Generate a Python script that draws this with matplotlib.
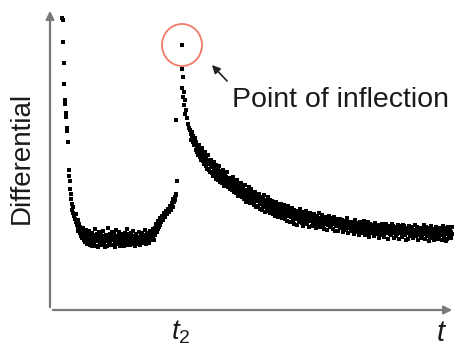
import numpy as np
import matplotlib.pyplot as plt
from matplotlib.patches import Ellipse

plt.rcParams['font.family'] = ['Liberation Sans', 'DejaVu Sans']
plt.rcParams['mathtext.fontset'] = 'custom'
plt.rcParams['mathtext.it'] = 'Liberation Sans:italic'
plt.rcParams['mathtext.rm'] = 'Liberation Sans'

# Datos (t y diferencial en unidades arbitrarias)
# caida inicial
t_inicio = [12, 13, 13, 14, 14, 15, 15, 16, 16, 17, 17, 18, 19, 19, 20, 20, 21, 21,
            22, 22, 23, 23, 24, 25, 26, 26, 27, 28, 28]
d_inicio = [292, 290, 268, 247, 226, 210, 206, 197, 193, 182, 179, 168, 140, 134, 129,
            121, 116, 111, 106, 100, 103, 97, 94, 91, 96, 88, 85, 90, 82]

# fondo plano (dos puntos por instante, t = 28..110)
t_plano = np.arange(28, 111)
d_plano_a = [84, 80, 77, 81, 78, 75, 70, 76, 73, 66, 71, 79, 65, 72, 77, 70, 67, 74,
             69, 76, 63, 70, 74, 68, 72, 79, 66, 71, 75, 64, 70, 73, 68, 74, 71, 65,
             76, 69, 73, 67, 72, 78, 64, 70, 75, 68, 73, 66, 71, 74, 69, 72, 65, 77,
             70, 74, 67, 71, 76, 68, 73, 70, 65, 74, 71, 67, 75, 70, 73, 69, 77, 72,
             75, 70, 78, 74, 76, 82, 79, 84, 81, 87, 85]
d_plano_b = [79, 86, 83, 74, 72, 82, 79, 68, 80, 77, 75, 68, 74, 69, 64, 75, 73, 81,
             64, 71, 72, 78, 66, 75, 65, 70, 74, 63, 69, 72, 82, 67, 76, 65, 78, 70,
             72, 63, 80, 74, 66, 70, 73, 76, 67, 72, 64, 77, 69, 81, 65, 76, 70, 73,
             66, 79, 72, 64, 70, 73, 66, 78, 72, 69, 77, 73, 68, 80, 66, 76, 71, 67,
             79, 74, 72, 81, 70, 75, 86, 78, 89, 83, 92]

# subida antes del pico
t_subida = [111, 112, 113, 114, 115, 116, 117, 118, 119, 120, 121, 122, 123, 123,
            124, 125, 126, 125, 126, 127]
d_subida = [88, 94, 90, 97, 93, 99, 96, 101, 98, 104, 100, 107, 103, 111, 108, 113,
            116, 110, 115, 129]

# pico (punto de inflexion) y primera caida
t_pico = [132, 132, 133, 132, 134, 133, 135, 134, 136, 135, 126, 137, 138, 139, 140]
d_pico = [265, 241, 233, 222, 218, 213, 210, 205, 200, 196, 190, 192, 186, 182, 180]

# decaimiento (dos puntos por instante, t = 141..402)
t_caida = np.arange(141, 403)
d_caida_a = [176, 173, 168, 171, 166, 160, 164, 161, 157, 153,
             158, 154, 149, 155, 151, 144, 150, 147, 140, 146,
             143, 137, 144, 139, 135, 145, 138, 130, 136, 132,
             139, 127, 133, 129, 136, 126, 130, 123, 132, 128,
             131, 120, 126, 122, 129, 117, 123, 120, 126, 116,
             121, 113, 124, 111, 118, 114, 120, 110, 117, 112,
             115, 108, 118, 105, 112, 109, 115, 104, 110, 107,
             113, 100, 111, 106, 98, 110, 104, 108, 101, 97,
             105, 109, 96, 107, 103, 99, 105, 93, 100, 104,
             98, 101, 96, 105, 91, 102, 97, 100, 94, 88,
             99, 95, 90, 100, 94, 97, 85, 99, 92, 96,
             90, 98, 93, 96, 88, 92, 86, 95, 91, 97,
             89, 84, 93, 96, 86, 90, 94, 85, 92, 88,
             91, 95, 84, 88, 93, 86, 80, 91, 87, 83,
             89, 92, 81, 86, 90, 84, 88, 79, 85, 91,
             87, 84, 78, 89, 85, 81, 86, 77, 88, 83,
             85, 80, 87, 76, 84, 81, 86, 79, 83, 88,
             80, 84, 78, 89, 81, 85, 77, 83, 79, 86,
             82, 78, 84, 74, 80, 83, 77, 85, 81, 76,
             82, 79, 84, 73, 80, 86, 77, 81, 78, 83,
             75, 80, 84, 72, 78, 82, 76, 85, 79, 81,
             77, 73, 80, 84, 75, 79, 82, 71, 78, 80,
             76, 83, 72, 79, 85, 74, 78, 81, 76, 82,
             78, 74, 80, 85, 71, 77, 79, 75, 82, 73,
             79, 76, 81, 70, 77, 83, 74, 78, 72, 80,
             75, 79, 84, 73, 77, 80, 71, 76, 81, 74,
             78, 83]
d_caida_b = [170, 178, 174, 165, 172, 168, 158, 155, 165, 160,
             150, 162, 156, 146, 158, 153, 141, 155, 149, 138,
             150, 146, 134, 148, 142, 131, 134, 141, 144, 128,
             130, 135, 140, 124, 131, 133, 138, 129, 126, 121,
             124, 127, 133, 118, 124, 125, 130, 114, 119, 123,
             127, 119, 117, 120, 125, 108, 116, 118, 123, 107,
             121, 113, 111, 114, 118, 103, 110, 112, 116, 101,
             106, 109, 104, 115, 108, 103, 99, 113, 106, 110,
             99, 102, 104, 100, 94, 108, 97, 102, 106, 95,
             106, 92, 103, 99, 100, 95, 89, 104, 98, 101,
             93, 102, 97, 86, 98, 91, 95, 93, 88, 101,
             95, 87, 84, 91, 94, 99, 93, 89, 83, 92,
             94, 91, 87, 90, 92, 82, 88, 91, 97, 83,
             86, 89, 92, 81, 87, 90, 89, 85, 94, 90,
             84, 87, 88, 93, 79, 88, 91, 86, 90, 83,
             82, 90, 86, 83, 80, 88, 92, 84, 82, 87,
             79, 88, 83, 85, 90, 78, 82, 87, 75, 81,
             85, 77, 86, 82, 75, 79, 83, 88, 73, 81,
             77, 85, 80, 82, 87, 76, 81, 79, 72, 84,
             78, 86, 75, 81, 77, 82, 79, 71, 84, 76,
             81, 86, 77, 79, 83, 74, 80, 78, 71, 84,
             82, 79, 85, 76, 80, 70, 77, 81, 84, 74,
             82, 78, 79, 75, 80, 77, 83, 70, 79, 75,
             72, 81, 77, 76, 79, 83, 74, 80, 69, 78,
             84, 72, 77, 79, 74, 78, 80, 71, 82, 76,
             81, 70, 76, 78, 82, 69, 77, 83, 74, 79,
             72, 76]

t_todo = np.concatenate([t_inicio, t_plano, t_plano, t_subida, t_pico, t_caida, t_caida])
d_todo = np.concatenate([d_inicio, d_plano_a, d_plano_b, d_subida, d_pico, d_caida_a, d_caida_b])

fig = plt.figure(figsize=(4.57, 3.53), dpi=100)
ax = fig.add_axes([50 / 457, 43 / 353, 405 / 457, 302 / 353])
ax.set_xlim(0, 405)
ax.set_ylim(0, 302)
for s in ax.spines.values():
    s.set_visible(False)
ax.set_xticks([])
ax.set_yticks([])
ax.patch.set_alpha(0)

ax.scatter(t_todo, d_todo, s=6, marker='s', color='black', linewidths=0)

# ejes con flechas
gris = '#7a7a7a'
ax.annotate('', xy=(0, 1.0), xytext=(0, 0), xycoords='axes fraction',
            arrowprops=dict(arrowstyle='-|>', color=gris, lw=1.6, mutation_scale=12),
            annotation_clip=False)
ax.annotate('', xy=(1.0, 0), xytext=(0, 0), xycoords='axes fraction',
            arrowprops=dict(arrowstyle='-|>', color=gris, lw=1.6, mutation_scale=12),
            annotation_clip=False)

# circulo y anotacion del punto de inflexion
ax.add_patch(Ellipse((t_pico[0], d_pico[0]), 40, 42, fill=False,
                     edgecolor='#f07a68', lw=1.3))
ax.annotate('', xy=(160, 247), xytext=(179, 227),
            arrowprops=dict(arrowstyle='-|>', color='#222222', lw=1.2, mutation_scale=12))
ax.text(182, 210, 'Point of inflection', fontsize=20.5, va='center', ha='left', color='#1a1a1a')

fig.text(22 / 457, 1 - 158 / 353, 'Differential', rotation=90, fontsize=20,
         ha='center', va='center', color='#1a1a1a')
ax.text(t_pico[0] - 1, -8, '$t_2$', fontsize=20, ha='center', va='top', color='#1a1a1a')
ax.text(392, -9, '$t$', fontsize=21, ha='center', va='top', color='#1a1a1a')

fig.savefig('out.png', dpi=100)
